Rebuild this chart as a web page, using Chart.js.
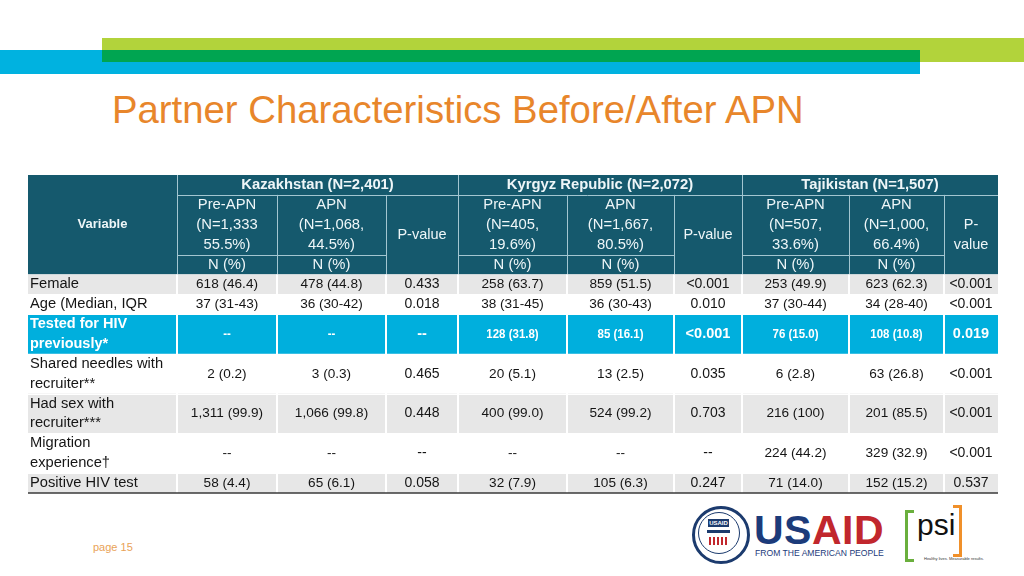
<!DOCTYPE html>
<html>
<head>
<meta charset="utf-8">
<script src="https://cdn.jsdelivr.net/npm/chart.js@4.4.1/dist/chart.umd.min.js"></script>
<style>
  body { margin: 0; width: 1024px; height: 576px; overflow: hidden; background: #fff;
         font-family: "Liberation Sans", Arial, sans-serif; position: relative; }
  .abs { position: absolute; }
  #title { left: 112px; top: 88px; font-size: 38.3px; color: #e8862b; white-space: nowrap; }
  #page { left: 93px; top: 541px; font-size: 11px; color: #e9a257; }
</style>
</head>
<body>
<!-- header stripes -->
<div class="abs" style="left:102px;top:38px;width:922px;height:24px;background:#b2d33b"></div>
<div class="abs" style="left:0;top:50px;width:920px;height:24px;background:#00b2e0"></div>
<div class="abs" style="left:102px;top:50px;width:818px;height:12px;background:#00a551"></div>

<div id="title" class="abs">Partner Characteristics Before/After APN</div>

<div class="abs" style="left:28px;top:175px;width:970px;height:320px">
  <canvas id="tbl" width="970" height="320"></canvas>
</div>

<!-- logos -->
<div class="abs" style="left:692px;top:506px;width:52px;height:52px;border:3px solid #1c3b6e;border-radius:50%"></div>
<div class="abs" style="left:698px;top:512px;width:40px;height:40px;border:1px solid #1c3b6e;border-radius:50%"></div>
<div class="abs" style="left:708px;top:519px;width:21px;height:8px;background:#1c3b6e;color:#fff;font-size:6px;font-weight:bold;text-align:center;line-height:8px">USAID</div>
<div class="abs" style="left:707px;top:530px;width:23px;height:3px;background:#1c3b6e"></div>
<div class="abs" style="left:709px;top:537px;width:19px;height:8px;background:repeating-linear-gradient(90deg,#c1272d 0 2px,#fff 2px 4px)"></div>
<div class="abs" style="left:754px;top:507px;font-size:41px;font-weight:bold;letter-spacing:0.5px;color:#1c3b7a">US<span style="color:#c1272d">AID</span></div>
<div class="abs" style="left:755px;top:548px;font-size:8.6px;color:#1c3b7a;white-space:nowrap">FROM THE AMERICAN PEOPLE</div>

<div class="abs" style="left:905px;top:510px;width:6px;height:46px;border:3px solid #6aaf3d;border-right:none"></div>
<div class="abs" style="left:953px;top:505px;width:6px;height:46px;border:3px solid #f0902a;border-left:none"></div>
<div class="abs" style="left:917px;top:508px;font-size:30px;color:#111">psi</div>
<div class="abs" style="left:924px;top:556px;font-size:4px;color:#333;white-space:nowrap">Healthy lives. Measurable results.</div>

<div id="page" class="abs">page 15</div>

<script>
// table content
const variables = ["Female", "Age (Median, IQR", "Tested for HIV\npreviously*", "Shared needles with\nrecruiter**",
                   "Had sex with\nrecruiter***", "Migration\nexperience\u2020", "Positive HIV test"];
const countries = ["Kazakhstan (N=2,401)", "Kyrgyz Republic (N=2,072)", "Tajikistan (N=1,507)"];
const armHeads = [
  ["Pre-APN", "(N=1,333", "55.5%)"], ["APN", "(N=1,068,", "44.5%)"],
  ["Pre-APN", "(N=405,", "19.6%)"], ["APN", "(N=1,667,", "80.5%)"],
  ["Pre-APN", "(N=507,", "33.6%)"], ["APN", "(N=1,000,", "66.4%)"]
];
const kzPre = ["618 (46.4)", "37 (31-43)", "--", "2 (0.2)", "1,311 (99.9)", "--", "58 (4.4)"];
const kzApn = ["478 (44.8)", "36 (30-42)", "--", "3 (0.3)", "1,066 (99.8)", "--", "65 (6.1)"];
const kzP   = ["0.433", "0.018", "--", "0.465", "0.448", "--", "0.058"];
const kgPre = ["258 (63.7)", "38 (31-45)", "128 (31.8)", "20 (5.1)", "400 (99.0)", "--", "32 (7.9)"];
const kgApn = ["859 (51.5)", "36 (30-43)", "85 (16.1)", "13 (2.5)", "524 (99.2)", "--", "105 (6.3)"];
const kgP   = ["<0.001", "0.010", "<0.001", "0.035", "0.703", "--", "0.247"];
const tjPre = ["253 (49.9)", "37 (30-44)", "76 (15.0)", "6 (2.8)", "216 (100)", "224 (44.2)", "71 (14.0)"];
const tjApn = ["623 (62.3)", "34 (28-40)", "108 (10.8)", "63 (26.8)", "201 (85.5)", "329 (32.9)", "152 (15.2)"];
const tjP   = ["<0.001", "<0.001", "0.019", "<0.001", "<0.001", "<0.001", "0.537"];

// layout
const colW = [149, 100, 109, 72, 109, 107, 68, 107, 95, 54];
const rowLines = [1, 1, 2, 2, 2, 2, 1];
const rowFill = ["#e7e7e7", "#ffffff", "#00afdd", "#ffffff", "#e7e7e7", "#ffffff", "#e7e7e7"];
const highlightRow = 2;
const headLines = 5;

const edges = [0];
colW.forEach(w => edges.push(edges[edges.length - 1] + w));
const total = edges[edges.length - 1];
const rowStart = [headLines];
rowLines.forEach(n => rowStart.push(rowStart[rowStart.length - 1] + n));

const columns = [kzPre, kzApn, kzP, kgPre, kgApn, kgP, tjPre, tjApn, tjP];
const font = "'Liberation Sans', Arial, sans-serif";

// narrow bold text, like the slide's highlighted numbers
function squeezed(ctx, t, x, y, sx) {
  ctx.save();
  ctx.translate(x, y);
  ctx.scale(sx, 1);
  ctx.fillText(t, 0, 0);
  ctx.restore();
}

const tablePlugin = {
  id: "tableCells",
  afterDraw(chart) {
    const ctx = chart.ctx;
    const X = v => chart.scales.x.getPixelForValue(v);
    const Y = v => chart.scales.y.getPixelForValue(v);
    ctx.save();
    ctx.textBaseline = "middle";

    // header block
    ctx.fillStyle = "#15596d";
    ctx.fillRect(X(0), Y(0), X(total) - X(0), Y(headLines) - Y(0));

    // header lines
    ctx.strokeStyle = "#a3c6d1";
    ctx.lineWidth = 1;
    const hline = (a, b, yy) => { ctx.beginPath(); ctx.moveTo(X(a), yy); ctx.lineTo(X(b), yy); ctx.stroke(); };
    const vline = (xx, a, b) => { ctx.beginPath(); ctx.moveTo(xx, Y(a)); ctx.lineTo(xx, Y(b)); ctx.stroke(); };
    hline(edges[1], total, Math.round(Y(1)) + 0.5);
    for (let g = 0; g < 3; g++) {
      const c0 = 1 + g * 3;
      hline(edges[c0], edges[c0 + 2], Math.round(Y(4)) + 0.5);
      vline(Math.round(X(edges[c0])) + 0.5, 0, headLines);
      vline(Math.round(X(edges[c0 + 1])) + 0.5, 1, headLines);
      vline(Math.round(X(edges[c0 + 2])) + 0.5, 1, headLines);
    }

    // header text
    ctx.fillStyle = "#eef6f8";
    ctx.textAlign = "center";
    ctx.font = "bold 13px " + font;
    ctx.fillText("Variable", (X(edges[0]) + X(edges[1])) / 2, Y(2.5));
    ctx.font = "bold 14.8px " + font;
    countries.forEach((c, g) => {
      ctx.fillText(c, (X(edges[1 + g * 3]) + X(edges[4 + g * 3])) / 2, Y(0.5));
    });
    ctx.font = "14.8px " + font;
    armHeads.forEach((lines, k) => {
      const c = 1 + Math.floor(k / 2) * 3 + (k % 2);
      const cx = (X(edges[c]) + X(edges[c + 1])) / 2;
      lines.forEach((t, i) => ctx.fillText(t, cx, Y(1.5 + i)));
      ctx.fillText("N (%)", cx, Y(4.5));
    });
    ctx.font = "14.5px " + font;
    [3, 6].forEach(c => ctx.fillText("P-value", (X(edges[c]) + X(edges[c + 1])) / 2, Y(3)));
    const pc = (X(edges[9]) + X(edges[10])) / 2;
    ctx.fillText("P-", pc, Y(2.5));
    ctx.fillText("value", pc, Y(3.5));

    // body rows
    variables.forEach((v, r) => {
      const y0 = Y(rowStart[r]), y1 = Y(rowStart[r + 1]);
      ctx.fillStyle = rowFill[r];
      ctx.fillRect(X(0), y0, X(total) - X(0), y1 - y0);
    });
    // white cell separators
    ctx.strokeStyle = "#ffffff";
    ctx.lineWidth = 2;
    for (let c = 1; c < edges.length - 1; c++) {
      ctx.beginPath();
      ctx.moveTo(X(edges[c]), Y(headLines));
      ctx.lineTo(X(edges[c]), Y(rowStart[rowStart.length - 1]));
      ctx.stroke();
    }
    ctx.lineWidth = 1;
    for (let r = 1; r < rowStart.length - 1; r++) {
      ctx.beginPath();
      ctx.moveTo(X(0), Math.round(Y(rowStart[r])) + 0.5);
      ctx.lineTo(X(total), Math.round(Y(rowStart[r])) + 0.5);
      ctx.stroke();
    }

    variables.forEach((v, r) => {
      const hl = r === highlightRow;
      const mid = (rowStart[r] + rowStart[r + 1]) / 2;
      const lines = v.split("\n");
      ctx.fillStyle = hl ? "#ffffff" : "#151515";
      ctx.textAlign = "left";
      ctx.font = (hl ? "bold 14.5px " : "14.7px ") + font;
      lines.forEach((t, i) => ctx.fillText(t, X(edges[0]) + 2, Y(mid - (lines.length - 1) / 2 + i)));
      ctx.textAlign = "center";
      columns.forEach((col, c) => {
        const isP = c % 3 === 2;
        const cx = (X(edges[c + 1]) + X(edges[c + 2])) / 2;
        if (isP) {
          ctx.font = (hl ? "bold 14.5px " : "14px ") + font;
          ctx.fillText(col[r], cx, Y(mid));
        } else if (hl) {
          ctx.font = "bold 13.5px " + font;
          squeezed(ctx, col[r], cx, Y(mid), 0.85);
        } else {
          ctx.font = "13.6px " + font;
          ctx.fillText(col[r], cx, Y(mid));
        }
      });
    });

    // bottom rule
    ctx.strokeStyle = "#3a3a3a";
    ctx.lineWidth = 1.5;
    ctx.beginPath();
    ctx.moveTo(X(0), Y(rowStart[rowStart.length - 1]));
    ctx.lineTo(X(total), Y(rowStart[rowStart.length - 1]));
    ctx.stroke();
    ctx.restore();
  }
};

new Chart(document.getElementById("tbl"), {
  type: "scatter",
  data: { datasets: [{ data: [] }] },
  options: {
    responsive: false,
    animation: false,
    layout: { padding: { bottom: 2 } },
    plugins: { legend: { display: false }, tooltip: { enabled: false } },
    scales: {
      x: { type: "linear", min: 0, max: total, display: false },
      y: { type: "linear", min: 0, max: headLines + rowLines.reduce((a, b) => a + b, 0), reverse: true, display: false }
    }
  },
  plugins: [tablePlugin]
});
</script>
</body>
</html>
